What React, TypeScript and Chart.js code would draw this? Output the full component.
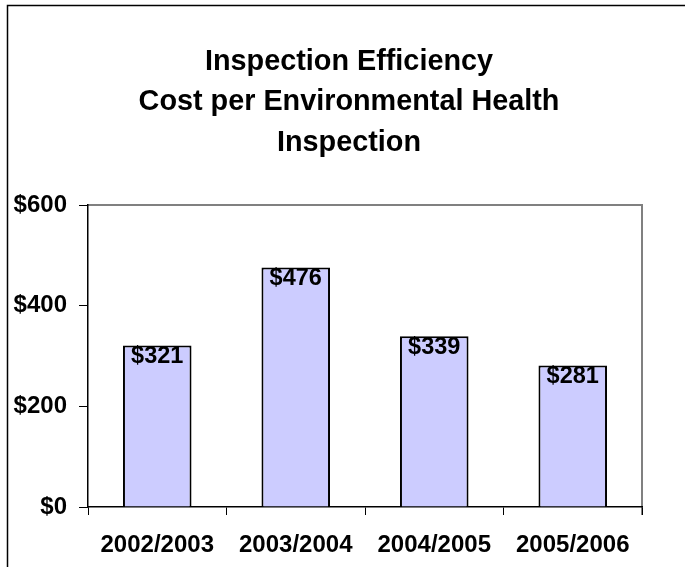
import React, { useEffect, useRef } from "react";
import { Chart, registerables } from "chart.js";

Chart.register(...registerables);

const categories = ["2002/2003", "2003/2004", "2004/2005", "2005/2006"];
const costs = [321, 476, 339, 281];
const yTicks = [0, 200, 400, 600];
const titleLines = ["Inspection Efficiency", "Cost per Environmental Health", "Inspection"];

const FONT = "Arial, 'Liberation Sans', sans-serif";

export default function App() {
  const ref = useRef<HTMLCanvasElement>(null);

  useEffect(() => {
    document.body.style.margin = "0";
    const canvas = ref.current!;

    const decor = {
      id: "decor",
      beforeDraw(chart: any) {
        const c = chart.ctx;
        const a = chart.chartArea;
        c.save();
        c.fillStyle = "#ffffff";
        c.fillRect(0, 0, chart.width, chart.height);
        // outer frame
        c.strokeStyle = "#000000";
        c.lineWidth = 1.5;
        c.beginPath();
        c.moveTo(7.5, chart.height + 2);
        c.lineTo(7.5, 5.5);
        c.lineTo(chart.width + 2, 5.5);
        c.stroke();
        // plot area border
        c.strokeStyle = "#808080";
        c.lineWidth = 2;
        c.beginPath();
        c.moveTo(a.left, a.top);
        c.lineTo(a.right, a.top);
        c.lineTo(a.right, a.bottom + 8);
        c.stroke();
        // title
        c.fillStyle = "#000000";
        c.font = `bold 28.8px ${FONT}`;
        c.textAlign = "center";
        c.textBaseline = "alphabetic";
        titleLines.forEach((t, i) => c.fillText(t, 349, 69.5 + i * 40.5));
        c.restore();
      },
      afterDatasetsDraw(chart: any) {
        const c = chart.ctx;
        const meta = chart.getDatasetMeta(0);
        c.save();
        c.fillStyle = "#000000";
        c.font = `bold 23.5px ${FONT}`;
        c.textAlign = "center";
        c.textBaseline = "middle";
        meta.data.forEach((bar: any, i: number) => {
          c.fillText("$" + costs[i], bar.x, bar.y + 11);
        });
        c.restore();
      },
    };

    const chart = new Chart(canvas, {
      type: "bar",
      data: {
        labels: categories,
        datasets: [
          {
            data: costs,
            backgroundColor: "#CCCCFF",
            borderColor: "#000000",
            borderWidth: 2,
            categoryPercentage: 1,
            barPercentage: 0.495,
          },
        ],
      },
      options: {
        responsive: false,
        animation: false,
        devicePixelRatio: 1,
        layout: { padding: { top: 205, right: 43, bottom: 0, left: 0 } },
        plugins: {
          legend: { display: false },
          title: { display: false },
          tooltip: { enabled: false },
        },
        scales: {
          x: {
            grid: {
              display: true,
              drawOnChartArea: false,
              drawTicks: true,
              tickLength: 8,
              color: "#000000",
              offset: true,
              lineWidth: 1,
            },
            border: { display: true, color: "#000000", width: 1.5 },
            ticks: {
              font: { family: FONT, size: 24, weight: "bold" },
              color: "#000000",
              padding: 16,
              maxRotation: 0,
              autoSkip: false,
            },
            afterFit(s: any) {
              s.height = 60;
            },
          },
          y: {
            min: 0,
            max: 600,
            grid: {
              display: true,
              drawOnChartArea: false,
              drawTicks: true,
              tickLength: 9,
              color: "#000000",
              lineWidth: 1,
            },
            border: { display: true, color: "#000000", width: 1.5 },
            ticks: {
              font: { family: FONT, size: 24, weight: "bold" },
              color: "#000000",
              padding: 12,
              callback: (v: any) => "$" + v,
            },
            afterBuildTicks(s: any) {
              s.ticks = yTicks.map((v) => ({ value: v }));
            },
            afterFit(s: any) {
              s.width = 88;
            },
          },
        },
      },
      plugins: [decor],
    });

    return () => chart.destroy();
  }, []);

  return (
    <div style={{ position: "fixed", left: 0, top: 0, width: 685, height: 567, background: "#fff" }}>
      <canvas ref={ref} width={685} height={567} style={{ width: 685, height: 567, display: "block" }} />
    </div>
  );
}
